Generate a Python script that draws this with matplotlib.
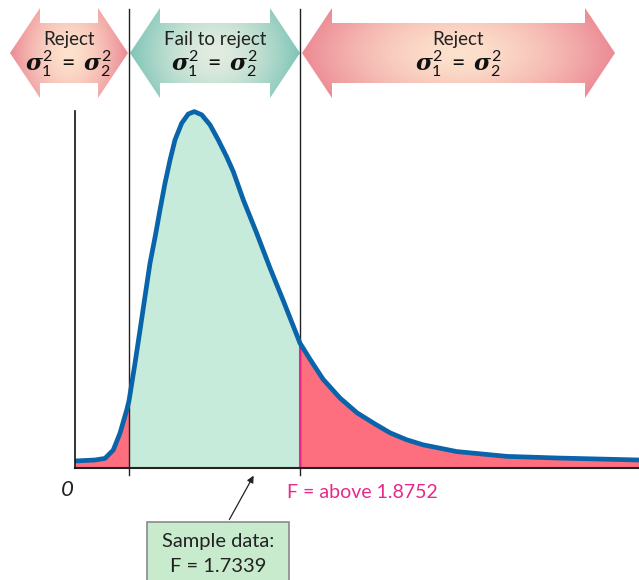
import numpy as np
import matplotlib
matplotlib.use('Agg')
import matplotlib.pyplot as plt
from matplotlib.patches import Polygon, Rectangle
from matplotlib.colors import to_rgb

plt.rcParams['font.family'] = ['Lato', 'DejaVu Sans']
plt.rcParams['mathtext.fontset'] = 'custom'
plt.rcParams['mathtext.it'] = 'DejaVu Serif:italic:bold'
plt.rcParams['mathtext.rm'] = 'Lato'

# curve (F value, height)
f_vals = [0.0, 0.167, 0.25, 0.319, 0.375, 0.431, 0.45, 0.50, 0.542, 0.583,
          0.625, 0.671, 0.708, 0.75, 0.792, 0.833, 0.889, 0.944, 0.994, 1.056,
          1.125, 1.194, 1.264, 1.319, 1.403, 1.514, 1.625, 1.736, 1.8752, 1.958,
          2.067, 2.208, 2.35, 2.50, 2.625, 2.76, 2.90, 3.183, 3.60, 4.017, 4.70]
dens = [0.0175, 0.020, 0.024, 0.045, 0.087, 0.145, 0.168, 0.262, 0.345, 0.428,
        0.512, 0.583, 0.645, 0.712, 0.770, 0.820, 0.862, 0.885, 0.891, 0.883,
        0.858, 0.820, 0.778, 0.741, 0.670, 0.587, 0.500, 0.418, 0.312, 0.272,
        0.222, 0.175, 0.138, 0.110, 0.088, 0.071, 0.058, 0.041, 0.029, 0.025, 0.020]
f_low = 0.45
f_crit = 1.8752
f_sample = 1.5   # where the arrow points in the picture

region_labels = ['Reject', 'Fail to reject', 'Reject']
sigma_label = r'$\sigma_1^2\,=\,\sigma_2^2$'

red = '#fd6f7f'
green = '#c6ebda'
blue = '#0a64aa'
magenta = '#e8288a'

x = np.array(f_vals)
y = np.array(dens)

fig = plt.figure(figsize=(6.39, 5.8), dpi=100)

# overlay in pixel units for the banner arrows and the box
ov = fig.add_axes([0, 0, 1, 1], zorder=0)
ov.set_xlim(0, 639)
ov.set_ylim(580, 0)
ov.axis('off')

ax = fig.add_axes([75 / 639, 112 / 580, 564 / 639, 468 / 580], zorder=1)
ax.patch.set_alpha(0)
ax.set_xlim(0, 4.7)
ax.set_ylim(0, 1.17)
ax.axis('off')


def banner(x0, x1, c_mid, c_edge, label):
    yc, hh, bh, head = 53, 45, 30, 30
    pts = [(x0, yc), (x0 + head, yc - hh), (x0 + head, yc - bh),
           (x1 - head, yc - bh), (x1 - head, yc - hh), (x1, yc),
           (x1 - head, yc + hh), (x1 - head, yc + bh), (x0 + head, yc + bh),
           (x0 + head, yc + hh)]
    poly = Polygon(pts, closed=True, facecolor='none', edgecolor='none')
    ov.add_patch(poly)
    gx, gy = np.meshgrid(np.linspace(-1, 1, 200), np.linspace(-1, 1, 60))
    r = np.clip(np.sqrt(gx ** 2 + 0.35 * gy ** 2), 0, 1) ** 1.6
    cm, ce = np.array(to_rgb(c_mid)), np.array(to_rgb(c_edge))
    img = cm[None, None, :] * (1 - r[..., None]) + ce[None, None, :] * r[..., None]
    im = ov.imshow(img, extent=[x0, x1, yc + hh, yc - hh], aspect='auto',
                   interpolation='bilinear')
    im.set_clip_path(poly)
    xm = (x0 + x1) / 2
    ov.text(xm, 40, label, ha='center', va='center', fontsize=13.5, color='#222222')
    ov.text(xm, 64, sigma_label, ha='center', va='center', fontsize=16.5, color='#111111')


banner(10, 128, '#fde2cd', '#ec8a94', region_labels[0])
banner(130, 300, '#e2ede0', '#7fc5b7', region_labels[1])
banner(302, 615, '#fde2cd', '#ec8a94', region_labels[2])

# shaded areas
ax.fill_between(x, y, where=x <= f_low, color=red, lw=0)
ax.fill_between(x, y, where=(x >= f_low) & (x <= f_crit), color=green, lw=0)
ax.fill_between(x, y, where=x >= f_crit, color=red, lw=0)
ax.plot(x, y, color=blue, lw=3.4, solid_joinstyle='round', solid_capstyle='butt', zorder=4)

# axes lines
ax.plot([0, 4.7], [0, 0], color='#222222', lw=1.5, clip_on=False, zorder=5)
ax.plot([0, 0], [0, 0.8925], color='#111111', lw=1.2, clip_on=False, zorder=5)
for xv in (f_low, f_crit):
    ax.plot([xv, xv], [-0.0175, 1.1475], color='#222222', lw=1.0, clip_on=False, zorder=3)
ax.plot([f_crit, f_crit], [0, np.interp(f_crit, x, y)], color=magenta, lw=1.5, zorder=3)

ax.text(-0.067, -0.055, '0', ha='center', va='center', fontsize=16, style='italic',
        color='#222222', clip_on=False)
ax.text(f_crit - 0.11, -0.06, 'F = above 1.8752', ha='left', va='center', fontsize=14,
        color=magenta, clip_on=False)

# sample data box
ov.add_patch(Rectangle((147, 522), 142, 70, facecolor='#c8ebcd', edgecolor='#8a8a8a', lw=1.2))
ov.text(218, 541, 'Sample data:', ha='center', va='center', fontsize=14.5, color='#222222')
ov.text(218, 566, 'F = 1.7339', ha='center', va='center', fontsize=14.5, color='#222222')
ax.annotate('', xy=(f_sample, -0.013), xytext=(1.275, -0.135),
            arrowprops=dict(arrowstyle='-|>', color='#222222', lw=0.9, mutation_scale=10),
            annotation_clip=False)

fig.savefig('out.png', dpi=100)
